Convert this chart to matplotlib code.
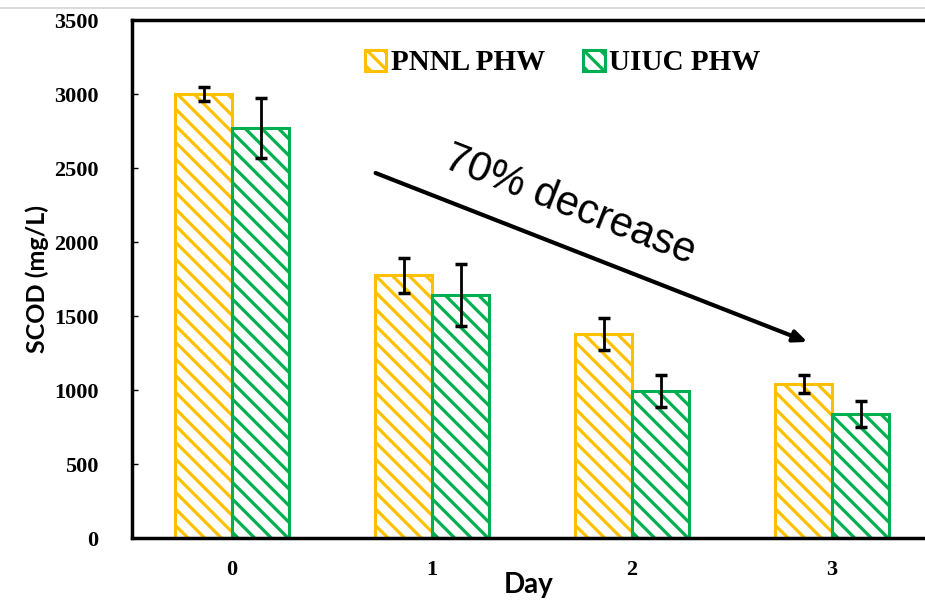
import numpy as np
import matplotlib
matplotlib.use("Agg")
import matplotlib.pyplot as plt
from matplotlib.lines import Line2D

# data
days = [0, 1, 2, 3]
series_names = ["PNNL PHW", "UIUC PHW"]
pnnl_scod = [3000, 1775, 1380, 1040]
pnnl_err = [50, 120, 108, 60]
uiuc_scod = [2770, 1640, 990, 840]
uiuc_err = [200, 210, 108, 88]
y_ticks = [0, 500, 1000, 1500, 2000, 2500, 3000, 3500]

yellow = "#FFC000"
green = "#00B050"

plt.rcParams["hatch.linewidth"] = 2.3

fig = plt.figure(figsize=(9.25, 6), dpi=100)
ax = fig.add_axes([132 / 925, 62 / 600, 1 - 132 / 925, 518 / 600])

x = np.array(days, dtype=float)
w = 0.285
ax.bar(x - w / 2, pnnl_scod, w, color="white", edgecolor=yellow, hatch="\\\\",
       linewidth=2.2, label=series_names[0], zorder=2)
ax.bar(x + w / 2, uiuc_scod, w, color="white", edgecolor=green, hatch="\\\\",
       linewidth=2.2, label=series_names[1], zorder=2)
ax.errorbar(x - w / 2, pnnl_scod, yerr=pnnl_err, fmt="none", ecolor="black",
            elinewidth=2, capsize=4, capthick=2.5, zorder=3)
ax.errorbar(x + w / 2, uiuc_scod, yerr=uiuc_err, fmt="none", ecolor="black",
            elinewidth=2, capsize=4, capthick=2.5, zorder=3)

ax.set_xlim(-0.5, 3.465)
ax.set_ylim(0, 3500)
ax.set_yticks(y_ticks)
ax.set_xticks(days)
ax.set_xticklabels([str(d) for d in days])

for lab in ax.get_yticklabels() + ax.get_xticklabels():
    lab.set_family("Liberation Serif")
    lab.set_fontweight("bold")
    lab.set_fontsize(16)

ax.tick_params(axis="y", direction="in", length=4, width=1, pad=24)
ax.tick_params(axis="x", length=0, pad=16)

for side in ["left", "bottom", "top"]:
    ax.spines[side].set_linewidth(2.5)
ax.spines["right"].set_visible(False)

ax.set_ylabel("SCOD (mg/L)", family="Lato", fontweight="bold", fontsize=18, labelpad=4)
ax.set_xlabel("Day", family="Lato", fontweight="bold", fontsize=20, labelpad=-6)

# arrow + note
ax.annotate("", xy=(2.89, 1318), xytext=(0.705, 2473),
            arrowprops=dict(arrowstyle="-|>,head_length=0.8,head_width=0.35",
                        color="black", lw=3), zorder=4)
ax.text(1.69, 2250, "70% decrease", family="Liberation Sans", fontsize=30,
        rotation=-21.4, ha="center", va="center", rotation_mode="anchor")

leg = ax.legend(loc="center", bbox_to_anchor=(0.543, 0.917), ncol=2, frameon=False,
                handlelength=0.75, handleheight=0.75, handletextpad=0.15,
                columnspacing=1.3, prop={"family": "Liberation Serif",
                                         "weight": "bold", "size": 21})

# thin grey border line at the very top of the screenshot
fig.add_artist(Line2D([0, 1], [1 - 8 / 600, 1 - 8 / 600], color="#d4d4d4", lw=1.2))

fig.savefig("out.png", dpi=100)
